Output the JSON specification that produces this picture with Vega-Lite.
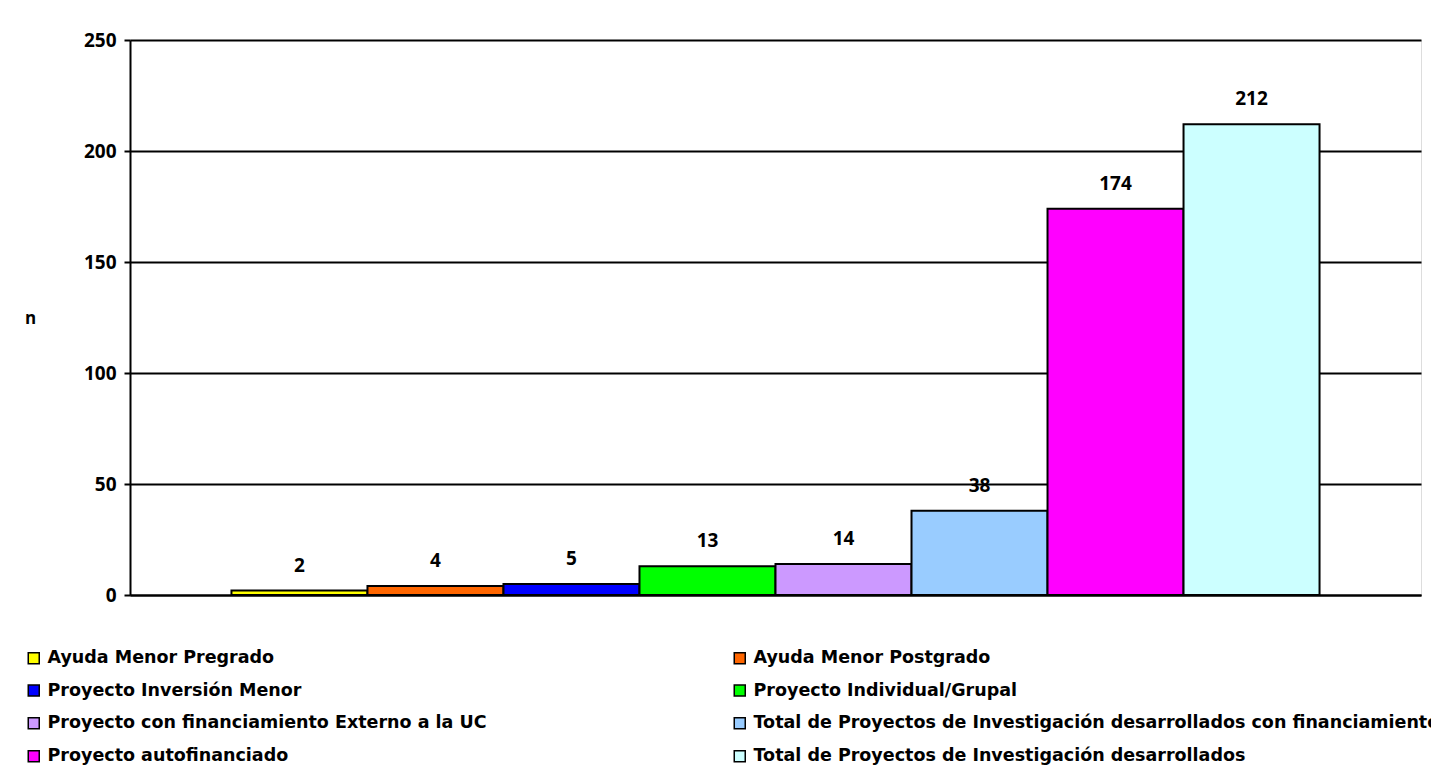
{
  "$schema": "https://vega.github.io/schema/vega-lite/v6.json",
  "autosize": {"type": "none"},
  "padding": {"left": 130, "top": 40, "right": 10, "bottom": 189},
  "width": 1291,
  "height": 555,
  "background": "white",
  "data": {
    "values": [
      {"cat": "Ayuda Menor Pregrado", "n": 2},
      {"cat": "Ayuda Menor Postgrado", "n": 4},
      {"cat": "Proyecto Inversión Menor", "n": 5},
      {"cat": "Proyecto Individual/Grupal", "n": 13},
      {"cat": "Proyecto con financiamiento Externo a la UC", "n": 14},
      {"cat": "Total de Proyectos de Investigación desarrollados con financiamiento", "n": 38},
      {"cat": "Proyecto autofinanciado", "n": 174},
      {"cat": "Total de Proyectos de Investigación desarrollados", "n": 212}
    ]
  },
  "encoding": {
    "x": {
      "field": "cat", "type": "nominal", "sort": null,
      "scale": {"paddingInner": 0, "paddingOuter": 0.746},
      "axis": {"labels": false, "ticks": false, "title": null, "domainColor": "black", "domainWidth": 2}
    },
    "y": {
      "field": "n", "type": "quantitative",
      "scale": {"domain": [0, 250]},
      "axis": {
        "values": [0, 50, 100, 150, 200, 250],
        "title": "n", "titleAngle": 0, "titleX": -100, "titleY": 278,
        "titleFont": "Open Sans", "titleFontWeight": "bold", "titleFontSize": 17, "titleColor": "black",
        "titleAlign": "center", "titleBaseline": "middle",
        "grid": true, "gridColor": "black", "gridOpacity": 1, "gridWidth": 2,
        "domainColor": "black", "domainWidth": 2,
        "tickColor": "black", "tickSize": 6, "tickWidth": 2,
        "labelFont": "Open Sans", "labelFontWeight": "bold", "labelFontSize": 19, "labelColor": "black",
        "labelPadding": 8
      }
    }
  },
  "layer": [
    {
      "mark": {"type": "bar", "stroke": "black", "strokeWidth": 2},
      "encoding": {
        "color": {
          "field": "cat", "type": "nominal", "sort": null,
          "scale": {
            "domain": [
              "Ayuda Menor Pregrado", "Ayuda Menor Postgrado", "Proyecto Inversión Menor", "Proyecto Individual/Grupal",
              "Proyecto con financiamiento Externo a la UC", "Total de Proyectos de Investigación desarrollados con financiamiento",
              "Proyecto autofinanciado", "Total de Proyectos de Investigación desarrollados"
            ],
            "range": ["#FFFF00", "#FF6600", "#0000FF", "#00FF00", "#CC99FF", "#99CCFF", "#FF00FF", "#CCFFFF"]
          },
          "legend": {
            "title": null, "orient": "none", "legendX": -105, "legendY": 609,
            "direction": "horizontal",
            "columns": 2, "columnPadding": 244, "rowPadding": 13.8,
            "symbolType": "square", "symbolSize": 121, "symbolStrokeColor": "black", "symbolStrokeWidth": 1.5,
            "labelFont": "DejaVu Sans", "labelFontWeight": "bold", "labelFontSize": 17.5, "labelColor": "black",
            "labelLimit": 2000, "labelOffset": 5
          }
        }
      }
    },
    {
      "mark": {"type": "text", "baseline": "bottom", "dy": -15, "font": "Open Sans", "fontWeight": "bold", "fontSize": 19, "color": "black"},
      "encoding": {"text": {"field": "n", "type": "quantitative"}}
    }
  ]
}
